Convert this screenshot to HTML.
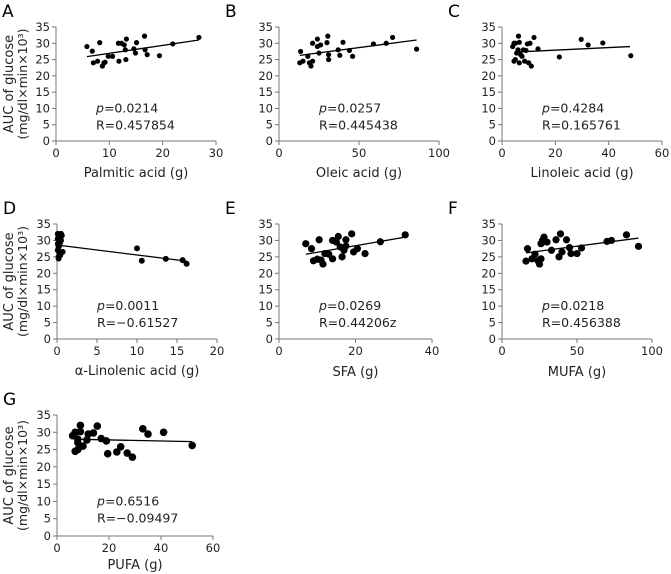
<!DOCTYPE html>
<html><head><meta charset="utf-8"><style>
html,body{margin:0;padding:0;background:#fff;}
svg{display:block;font-family:"DejaVu Sans","Liberation Sans",sans-serif;}
</style></head><body>
<svg id="fig" width="671" height="574" viewBox="0 0 671 574" xmlns="http://www.w3.org/2000/svg"></svg>
<script>
// ---- data ----
const aX=[5.8,6.8,7,7.8,8.2,8.7,9,9.2,9.8,10.6,11.7,11.8,12.3,12.8,13,13.2,13.1,14.6,14.9,15.1,16.6,16.7,17.1,19.4,21.9,26.8];
const aY=[29,27.6,24,24.5,30.2,23,24,24.2,26,26,30,24.5,30,29.5,28,31.3,25,28.3,27,30.2,32.2,28,26.5,26.2,29.8,31.8];
const aFit=[5.8,25.9,26.8,31];
const bX=[13,13.5,15,18,19,20,21,21,24,24,25,26,30,30.5,31,31,37,38,40,44,46,59,67,71,86];
const bY=[24,27.5,24.5,26,24,23,24.5,30,31.3,29,27,29.5,30.2,32.2,26.5,25,28,26.3,30.3,27.8,26,29.8,30,31.8,28.2];
const bFit=[13,26.3,86,31];
const cX=[4,4.5,4.5,5,5,5.5,6,6.2,6.5,6.5,7,7.5,8,8.5,9,9.5,10,10.5,11,12,13.5,21.5,29.7,32.3,37.8,48.3];
const cY=[29,30,24.5,25,30,27,28,32.2,30.3,24,26.5,26,28,24.5,27.8,29.8,24,30,23,31.8,28.3,25.8,31.2,29.5,30.1,26.2];
const cFit=[5,27.3,48,29];
const dX=[0.1,0.2,0.3,0.1,0.2,0.1,0.3,0.2,0.2,0.5,0.6,0.5,0.4,0.7,0.4,0.3,0.1,10,10.6,13.6,15.7,16.2];
const dY=[32,31,30,29,28,27,26,25,24.5,32,31.5,30,29.5,26.5,25.5,28.5,30.5,27.6,23.8,24.4,24,22.9];
const dFit=[0,28.6,16.2,23.7];
const eX=[7,8.5,9,10,10.5,11,11.5,12,13,14,14,15,15.5,16,16.5,17,17.5,17.5,19,19.5,20.5,22.5,26.5,33];
const eY=[29,27.5,23.8,24.3,30.2,24,22.8,26,25.8,24.4,30,29.5,31.2,28,25,27,28.3,30.2,32,26.5,27.5,26,29.6,31.7];
const eFit=[7,25.8,33,31];
const fX=[16,17,20,22,24,25,26,26,27,28,30,33,36,38,39,40,43,45,46,50,53,70,73,83,91];
const fY=[23.7,27.5,24.4,25.8,23.8,22.8,24.4,29,30,31,29.5,27,30.2,25,32,26.5,30.2,27.8,26,26,27.7,29.7,30,31.7,28.2];
const fFit=[16,26.2,91,30.7];
const gX=[6,7,7,8,8,8,9,9,9,10,11.5,12,14,15.5,17,19,19.5,23,24.5,27,29,33,35,41,52];
const gY=[29,24.5,30,28,25,27,32,26,30.2,26,27.8,29.5,29.8,31.8,28.2,27.5,23.8,24.3,25.8,24,22.8,31,29.5,30,26.2];
const gFit=[7,28,52,27.3];
const yTicks=[0,5,10,15,20,25,30,35];
const xTicksA=[0,10,20,30], xTicksB=[0,50,100], xTicksC=[0,20,40,60], xTicksD=[0,5,10,15,20], xTicksE=[0,20,40], xTicksF=[0,50,100], xTicksG=[0,20,40,60];

const panels=[
 {id:'a',L:'A',xs:aX,ys:aY,fit:aFit,xt:xTicksA,x0:56,x1:216,yT:27,yB:141,r:2.6,title:'Palmitic acid (g)',p:'0.0214',R:'R=0.457854',ylab:true,tOff:36},
 {id:'b',L:'B',xs:bX,ys:bY,fit:bFit,xt:xTicksB,x0:279,x1:439,yT:27,yB:141,r:2.6,title:'Oleic acid (g)',p:'0.0257',R:'R=0.445438',tOff:36},
 {id:'c',L:'C',xs:cX,ys:cY,fit:cFit,xt:xTicksC,x0:502,x1:662,yT:27,yB:141,r:2.6,title:'Linoleic acid (g)',p:'0.4284',R:'R=0.165761',tOff:36},
 {id:'d',L:'D',xs:dX,ys:dY,fit:dFit,xt:xTicksD,x0:57,x1:217,yT:224,yB:339,r:3,title:'\u03b1-Linolenic acid (g)',p:'0.0011',R:'R=\u22120.61527',ylab:true,tOff:36},
 {id:'e',L:'E',xs:eX,ys:eY,fit:eFit,xt:xTicksE,x0:279,x1:432,yT:224,yB:339,r:3.6,title:'SFA (g)',p:'0.0269',R:'R=0.44206z',tOff:37},
 {id:'f',L:'F',xs:fX,ys:fY,fit:fFit,xt:xTicksF,x0:502,x1:652,yT:224,yB:339,r:3.6,title:'MUFA (g)',p:'0.0218',R:'R=0.456388',tOff:37},
 {id:'g',L:'G',xs:gX,ys:gY,fit:gFit,xt:xTicksG,x0:57,x1:213,yT:415,yB:536,r:3.8,title:'PUFA (g)',p:'0.6516',R:'R=\u22120.09497',ylab:true,tOff:33}
];
const NS='http://www.w3.org/2000/svg';
const svg=document.getElementById('fig');
function mk(tag,attrs,parent,txt){const e=document.createElementNS(NS,tag);for(const k in attrs)e.setAttribute(k,attrs[k]);if(txt!==undefined)e.textContent=txt;parent.appendChild(e);return e;}
panels.forEach(P=>{
 const g=mk('g',{},svg);
 
 
 const xmax=P.xt[P.xt.length-1];
 const sx=v=>P.x0+v/xmax*(P.x1-P.x0);
 const sy=v=>P.yB-v/35*(P.yB-P.yT);
 const lab=mk('text',{x:P.x0-54,y:P.yT-10,'font-size':17,fill:'#000'},g,P.L);
 
 
 const ax=mk('path',{d:`M${P.x0},${P.yT}V${P.yB}H${P.x1}`,stroke:'#777',fill:'none','stroke-width':1},g);
 
 
 yTicks.forEach(t=>{
  mk('line',{x1:P.x0-4,x2:P.x0,y1:sy(t),y2:sy(t),stroke:'#777'},g);
  const tl=mk('text',{x:P.x0-6,y:sy(t)+4,'font-size':11.5,'text-anchor':'end',fill:'#222'},g,String(t));
  
  
 });
 P.xt.forEach(t=>{
  mk('line',{x1:sx(t),x2:sx(t),y1:P.yB,y2:P.yB+4,stroke:'#777'},g);
  const tl=mk('text',{x:sx(t),y:P.yB+16,'font-size':11.5,'text-anchor':'middle',fill:'#222'},g,String(t));
  
  
 });
 const xt=mk('text',{x:(P.x0+P.x1)/2,y:P.yB+P.tOff,'font-size':13,'text-anchor':'middle',fill:'#222'},g,P.title);
 
 
 if(P.ylab){
  const cy=(P.yT+P.yB)/2;
  const t1=mk('text',{x:0,y:0,'font-size':13,'text-anchor':'middle',fill:'#222',transform:`translate(13,${cy}) rotate(-90)`},g,'AUC of glucose');
  
  
  const t2=mk('text',{x:0,y:0,'font-size':12.5,'text-anchor':'middle',fill:'#222',transform:`translate(27,${cy}) rotate(-90)`},g,'(mg/dl\u00d7min\u00d710\u00b3)');
  
  
 }
 P.xs.forEach((v,i)=>{
  const c=mk('circle',{cx:sx(v),cy:sy(P.ys[i]),r:P.r,fill:'#000'},g);
  
  
 });
 const f=P.fit;
 const ln=mk('line',{x1:sx(f[0]),y1:sy(f[1]),x2:sx(f[2]),y2:sy(f[3]),stroke:'#000','stroke-width':1.3},g);
 
 
 const ty=sy(10);
 const pt=mk('text',{x:P.x0+40,y:ty+4,'font-size':12.5,fill:'#222'},g);
 
 
 mk('tspan',{'font-style':'italic'},pt,'p');
 mk('tspan',{},pt,'='+P.p);
 const rt=mk('text',{x:P.x0+40,y:ty+21,'font-size':12.5,fill:'#222'},g,P.R);
 
 
});
</script>
</body></html>
